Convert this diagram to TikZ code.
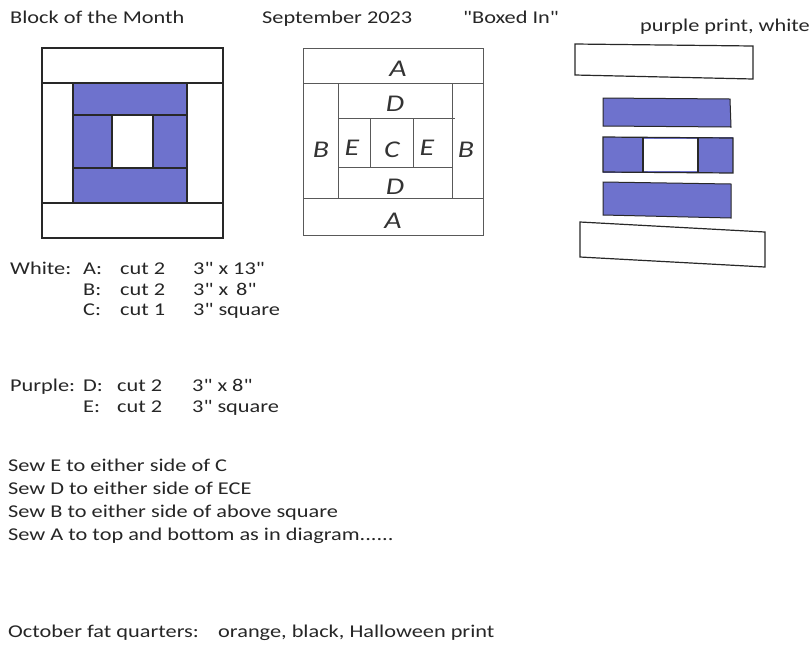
\documentclass[tikz,border=0pt]{standalone}
\usepackage{fontspec}
\setmainfont{Carlito}[FakeStretch=1.24, Ligatures=TeXOff]
\definecolor{purp}{RGB}{110,114,205}
\definecolor{pen}{RGB}{40,40,40}
\begin{document}
\begin{tikzpicture}[x=1pt,y=-1pt,
  txt/.style={anchor=base west, inner sep=0pt, font=\fontsize{18}{20}\selectfont, text=black!85},
  hand/.style={inner sep=0pt, font=\fontsize{24}{24}\selectfont\itshape, text=black!80},
  edge1/.style={draw=pen, line width=1.2pt},
  edge2/.style={draw=black!65, line width=0.9pt},
  patch/.style={fill=purp, draw=pen, line width=1pt}]
\fill[white] (0,0) rectangle (811,649);
\useasboundingbox (0,0) rectangle (811,649);
% header
\node[txt] (h1) at (10,23) {Block of the Month};
\node[txt] (h2) at (262,23) {September 2023};
\node[txt] (h3) at (463,23) {"Boxed In"};
\node[txt] (h4) at (640,31) {purple print, white};
% block 1
\fill[purp] (73,83) rectangle (187,203);
\fill[white] (112,115) rectangle (153,168);
\draw[edge1] (42,48) rectangle (223,238);
\draw[edge1] (42,83) -- (223,83);
\draw[edge1] (42,203) -- (223,203);
\draw[edge1] (73,83) -- (73,203);
\draw[edge1] (187,83) -- (187,203);
\draw[edge1] (73,115) -- (187,115);
\draw[edge1] (73,168) -- (187,168);
\draw[edge1] (112,115) -- (112,168);
\draw[edge1] (153,115) -- (153,168);
% block 2
\draw[edge2] (303,48) rectangle (483,235);
\draw[edge2] (303,83) -- (483,83);
\draw[edge2] (303,198) -- (483,198);
\draw[edge2] (338,83) -- (338,198);
\draw[edge2] (452,83) -- (452,198);
\draw[edge2] (338,118) -- (455,118);
\draw[edge2] (338,167) -- (452,167);
\draw[edge2] (370,118) -- (370,167);
\draw[edge2] (413,118) -- (413,167);
\node[hand] (la1) at (398,69) {A};
\node[hand] (ld1) at (395,104) {D};
\node[hand] (lb1) at (321,150) {B};
\node[hand] (le1) at (352,148) {E};
\node[hand] (lc) at (392,150) {C};
\node[hand] (le2) at (427,148) {E};
\node[hand] (lb2) at (466,150) {B};
\node[hand] (ld2) at (395,187) {D};
\node[hand] (la2) at (393,221) {A};
% block 3 (exploded)
\draw[edge1] (575,44) -- (753,46) -- (753,79) -- (575,75) -- cycle;
\draw[patch] (603,98) -- (730,99) -- (731,127) -- (603,126) -- cycle;
\fill[purp] (603,137) rectangle (733,173);
\fill[white] (643,139) rectangle (698,171);
\draw[edge1] (603,137) -- (733,138) -- (733,173) -- (603,172) -- cycle;
\draw[edge1] (643,137) -- (643,172);
\draw[edge1] (698,138) -- (698,173);
\draw[patch] (603,182) -- (731,184) -- (731,218) -- (603,215) -- cycle;
\draw[edge1] (580,222) -- (765,232) -- (765,267) -- (580,257) -- cycle;
% cutting list
\node[txt] (w) at (10,274) {White:};
\node[txt] (wa) at (83,274) {A:};
\node[txt] (wa2) at (120,274) {cut 2};
\node[txt] (wa3) at (193,274) {3" x 13"};
\node[txt] (wb) at (83,295) {B:};
\node[txt] (wb2) at (120,295) {cut 2};
\node[txt] (wb3) at (193,295) {3" x \,8"};
\node[txt] (wc) at (83,315) {C:};
\node[txt] (wc2) at (120,315) {cut 1};
\node[txt] (wc3) at (193,315) {3" square};
\node[txt] (p) at (10,391) {Purple:};
\node[txt] (pd) at (83,391) {D:};
\node[txt] (pd2) at (117,391) {cut 2};
\node[txt] (pd3) at (192,391) {3" x 8"};
\node[txt] (pe) at (83,412) {E:};
\node[txt] (pe2) at (117,412) {cut 2};
\node[txt] (pe3) at (192,412) {3" square};
% instructions
\node[txt] (s1) at (8,471) {Sew E to either side of C};
\node[txt] (s2) at (8,494) {Sew D to either side of ECE};
\node[txt] (s3) at (8,517) {Sew B to either side of above square};
\node[txt] (s4) at (8,540) {Sew A to top and bottom as in diagram......};
\node[txt] (o1) at (8,637) {October fat quarters:};
\node[txt] (o2) at (218,637) {orange, black, Halloween print};
\end{tikzpicture}
\end{document}
